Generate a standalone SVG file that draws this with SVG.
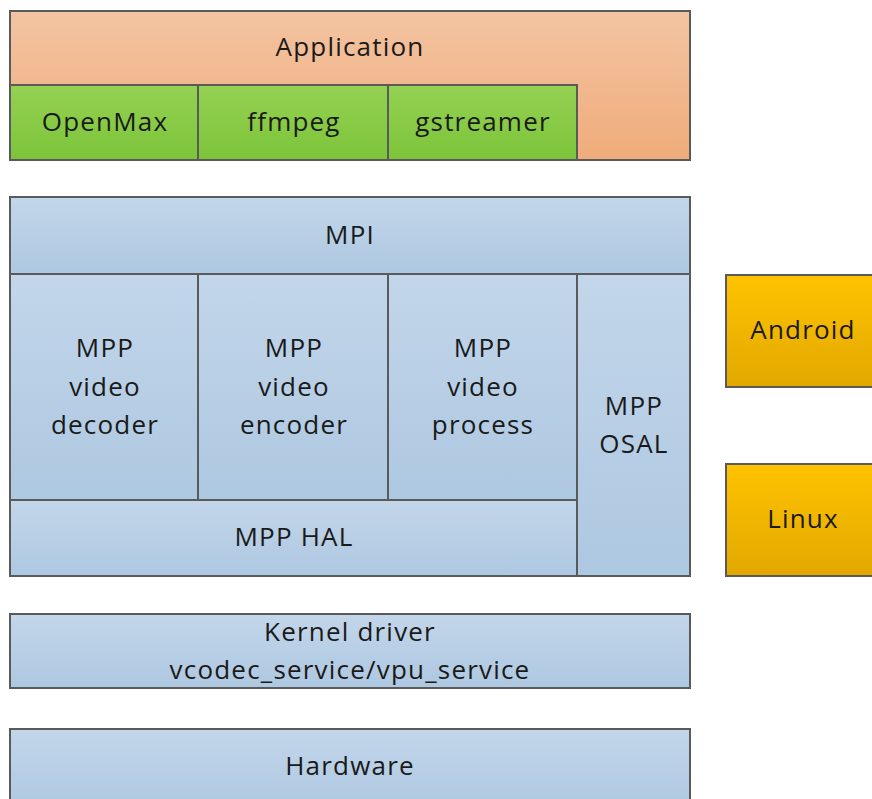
<svg xmlns="http://www.w3.org/2000/svg" width="872" height="799" viewBox="0 0 872 799">
<defs>
<linearGradient id="gO" x1="0" y1="0" x2="0" y2="1"><stop offset="0" stop-color="#F3C4A2"/><stop offset="1" stop-color="#EFAC7A"/></linearGradient>
<linearGradient id="gG" x1="0" y1="0" x2="0" y2="1"><stop offset="0" stop-color="#95D152"/><stop offset="1" stop-color="#7CC43A"/></linearGradient>
<linearGradient id="gB" x1="0" y1="0" x2="0" y2="1"><stop offset="0" stop-color="#C3D6EA"/><stop offset="1" stop-color="#ADC8E1"/></linearGradient>
<linearGradient id="gY" x1="0" y1="0" x2="0" y2="1"><stop offset="0" stop-color="#FFC300"/><stop offset="1" stop-color="#E2A800"/></linearGradient>
</defs>
<style>
rect{stroke:#5A5A5A;stroke-width:2}
.o{fill:url(#gO)}.g{fill:url(#gG)}.b{fill:url(#gB)}.y{fill:url(#gY)}
text{font-family:"Open Sans","DejaVu Sans",sans-serif;font-size:26px;letter-spacing:1.2px;fill:#1a1a1a;text-anchor:middle}
</style>
<rect width="872" height="799" fill="#fff" style="stroke:none"/>
<g id="application"><rect class="o" x="10" y="11" width="680" height="149"/><text x="350" y="56">Application</text></g>
<g id="openmax"><rect class="g" x="10" y="85" width="188" height="75"/><text x="105" y="131">OpenMax</text></g>
<g id="ffmpeg"><rect class="g" x="198" y="85" width="190" height="75"/><text x="294" y="131">ffmpeg</text></g>
<g id="gstreamer"><rect class="g" x="388" y="85" width="189" height="75"/><text x="483" y="131">gstreamer</text></g>
<g id="mpi"><rect class="b" x="10" y="197" width="680" height="77"/><text x="350" y="244">MPI</text></g>
<g id="decoder"><rect class="b" x="10" y="274" width="188" height="226"/><text x="105" y="357">MPP</text><text x="105" y="396">video</text><text x="105" y="434">decoder</text></g>
<g id="encoder"><rect class="b" x="198" y="274" width="190" height="226"/><text x="294" y="357">MPP</text><text x="294" y="396">video</text><text x="294" y="434">encoder</text></g>
<g id="process"><rect class="b" x="388" y="274" width="189" height="226"/><text x="483" y="357">MPP</text><text x="483" y="396">video</text><text x="483" y="434">process</text></g>
<g id="osal"><rect class="b" x="577" y="274" width="113" height="302"/><text x="634" y="415">MPP</text><text x="634" y="453">OSAL</text></g>
<g id="hal"><rect class="b" x="10" y="500" width="567" height="76"/><text x="294" y="546">MPP HAL</text></g>
<g id="android"><rect class="y" x="726" y="275" width="150" height="112"/><text x="803" y="339">Android</text></g>
<g id="linux"><rect class="y" x="726" y="464" width="150" height="112"/><text x="803" y="528">Linux</text></g>
<g id="kernel"><rect class="b" x="10" y="614" width="680" height="74"/><text x="350" y="641">Kernel driver</text><text x="350" y="679">vcodec_service/vpu_service</text></g>
<g id="hardware"><rect class="b" x="10" y="729" width="680" height="80"/><text x="350" y="775">Hardware</text></g>
<g id="connectors"/>
</svg>
